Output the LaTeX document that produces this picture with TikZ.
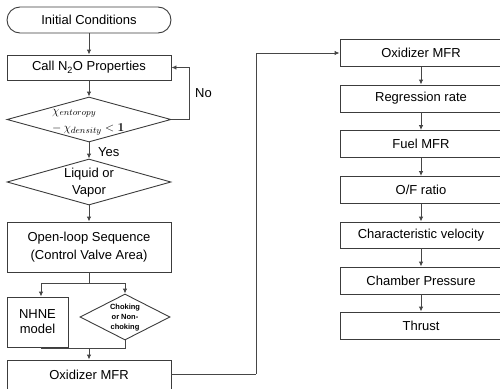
\documentclass[tikz,border=0pt]{standalone}
\usepackage[no-math]{fontspec}
\setmainfont{Liberation Sans}
\usetikzlibrary{arrows.meta,shapes.geometric}
\definecolor{boxc}{RGB}{60,60,60}
\definecolor{linec}{RGB}{70,70,70}
\begin{document}
\begin{tikzpicture}[x=1pt,y=-1pt,
  box/.style={draw=boxc, line width=0.9pt, minimum width=164pt, minimum height=26pt,
    inner sep=0pt, font=\fontsize{13}{17}\selectfont, text=black, align=center},
  rbox/.style={box, minimum width=162pt, minimum height=27pt},
  dia/.style={draw=boxc, line width=0.9pt, diamond, inner sep=0pt},
  arr/.style={draw=linec, line width=0.9pt, -{Latex[length=5pt,width=4.5pt]}},
  ln/.style={draw=linec, line width=0.9pt},
  lbl/.style={font=\fontsize{13}{17}\selectfont, inner sep=0pt, align=center}
]
\useasboundingbox (0,0) rectangle (500,388);

% left column
\node[box, rounded corners=13pt] (init) at (89,20) {Initial Conditions};
\node[box, minimum height=25pt] (call) at (89,67.5) {Call N\textsubscript{2}O Properties};
\node[dia, minimum width=164pt, minimum height=45pt] (d1) at (89,119.5) {};
\node[inner sep=0pt, anchor=west, align=left, font=\fontsize{12.5}{17}\selectfont]
  (d1t) at (52,122) {$\chi_{entoropy}$\\$-\,\chi_{density} < \mathbf{1}$};
\node[dia, minimum width=164pt, minimum height=46pt] (d2) at (89,182) {};
\node[lbl] (d2t) at (89,183) {Liquid or\\Vapor};
\node[box, minimum height=50pt, font=\fontsize{13}{18}\selectfont] (open) at (89,247)
  {Open-loop Sequence\\(Control Valve Area)};
\node[box, minimum width=61pt, minimum height=50pt, font=\fontsize{13}{15}\selectfont]
  (nhne) at (37.5,322) {NHNE\\model};
\node[dia, minimum width=90pt, minimum height=46pt] (chk) at (125,317) {};
\node[inner sep=0pt, align=center, font=\fontsize{7.5}{10}\bfseries] (chkt) at (125,318)
  {Choking\\or Non-\\choking};
\node[box, minimum height=32pt] (oxl) at (89,376) {};
\node[lbl] (oxlt) at (89,375) {Oxidizer MFR};

% right column
\node[rbox] (oxr) at (421,53) {Oxidizer MFR};
\node[rbox] (reg) at (421,98.5) {Regression rate};
\node[rbox] (fuel) at (421,144) {Fuel MFR};
\node[rbox] (of) at (421,190) {O/F ratio};
\node[rbox, minimum height=26pt] (cv) at (421,235) {Characteristic velocity};
\node[rbox] (cp) at (421,280.5) {Chamber Pressure};
\node[rbox] (thr) at (421,325.5) {Thrust};

% labels
\node[lbl, anchor=west] (no) at (195,93) {No};
\node[lbl, anchor=west] (yes) at (98,152) {Yes};

% helper points
\coordinate (split) at (89,283);
\coordinate (join) at (89,348);
\coordinate (nob) at (189,119.5);
\coordinate (bus) at (256,374);

% connectors
\draw[arr] (init) -- (call);
\draw[arr] (call) -- (d1);
\draw[arr] (d1) -- (d2);
\draw[arr] (d2) -- (open);
\draw[ln] (d1.east) -- (nob);
\draw[arr] (nob) |- (call.east);
\draw[ln] (open.south) -- (split);
\draw[arr] (split) -| ([xshift=3.5pt]nhne.north);
\draw[arr] (split) -| (chk.north);
\draw[ln] ([xshift=3.5pt]nhne.south) |- (join);
\draw[ln] (chk.south) |- (join);
\draw[arr] (join) -- (oxl.north);
\draw[ln] (oxl.east |- bus) -- (bus);
\draw[arr] (bus) |- (oxr.west);
\draw[arr] (oxr) -- (reg);
\draw[arr] (reg) -- (fuel);
\draw[arr] (fuel) -- (of);
\draw[arr] (of) -- (cv);
\draw[arr] (cv) -- (cp);
\draw[arr] (cp) -- (thr);
\end{tikzpicture}
\end{document}
